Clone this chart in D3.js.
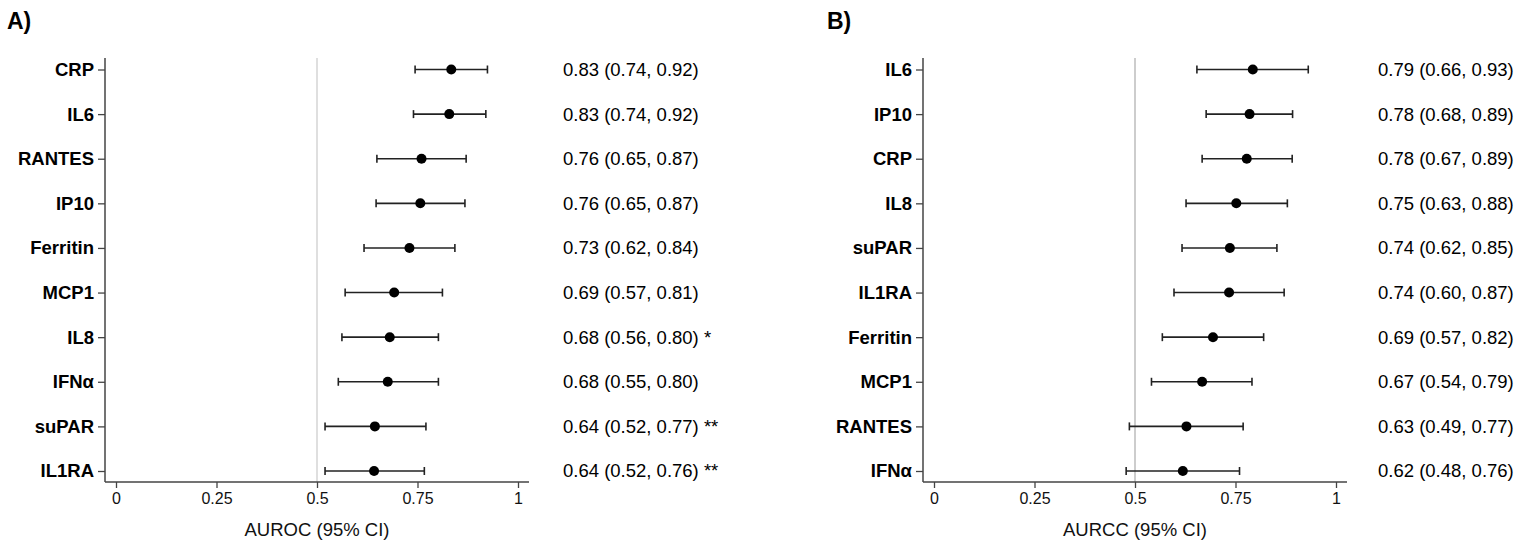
<!DOCTYPE html>
<html>
<head>
<meta charset="utf-8">
<script src="https://cdn.jsdelivr.net/npm/d3@7"></script>
<style>
  html, body { margin: 0; padding: 0; background: #fff; }
  svg { display: block; font-family: "Liberation Sans", Arial, Helvetica, sans-serif; }
</style>
</head>
<body>
<svg id="chart" width="1535" height="550"></svg>
<script>
// ---- Data ----
const catsA = ["CRP", "IL6", "RANTES", "IP10", "Ferritin", "MCP1", "IL8", "IFNα", "suPAR", "IL1RA"];
const estA  = [0.834, 0.829, 0.760, 0.757, 0.730, 0.692, 0.681, 0.676, 0.644, 0.642];
const lowA  = [0.744, 0.740, 0.649, 0.647, 0.617, 0.570, 0.562, 0.553, 0.520, 0.520];
const highA = [0.924, 0.920, 0.871, 0.868, 0.843, 0.812, 0.802, 0.802, 0.771, 0.767];
const textA = ["0.83 (0.74, 0.92)", "0.83 (0.74, 0.92)", "0.76 (0.65, 0.87)", "0.76 (0.65, 0.87)",
               "0.73 (0.62, 0.84)", "0.69 (0.57, 0.81)", "0.68 (0.56, 0.80) *", "0.68 (0.55, 0.80)",
               "0.64 (0.52, 0.77) **", "0.64 (0.52, 0.76) **"];

const catsB = ["IL6", "IP10", "CRP", "IL8", "suPAR", "IL1RA", "Ferritin", "MCP1", "RANTES", "IFNα"];
const estB  = [0.793, 0.785, 0.778, 0.752, 0.736, 0.734, 0.694, 0.667, 0.628, 0.619];
const lowB  = [0.654, 0.677, 0.667, 0.627, 0.617, 0.597, 0.568, 0.541, 0.486, 0.478];
const highB = [0.931, 0.892, 0.891, 0.879, 0.853, 0.871, 0.820, 0.791, 0.769, 0.760];
const textB = ["0.79 (0.66, 0.93)", "0.78 (0.68, 0.89)", "0.78 (0.67, 0.89)", "0.75 (0.63, 0.88)",
               "0.74 (0.62, 0.85)", "0.74 (0.60, 0.87)", "0.69 (0.57, 0.82)", "0.67 (0.54, 0.79)",
               "0.63 (0.49, 0.77)", "0.62 (0.48, 0.76)"];

const xTickValues = [0, 0.25, 0.5, 0.75, 1];
const xTickLabels = ["0", "0.25", "0.5", "0.75", "1"];
const refValue = 0.5;

const svg = d3.select("#chart");

function drawPanel(cfg) {
  const g = svg.append("g");
  const top = 58, bottom = 482;
  const x = d3.scaleLinear().domain([0, 1]).range([cfg.x0, cfg.x0 + 402]);
  const y = d3.scalePoint().domain(cfg.cats).range([69.5, 471]);

  // panel letter
  g.append("text").attr("x", cfg.letterX).attr("y", 29)
    .attr("font-size", 23).attr("font-weight", "bold").attr("fill", "#000")
    .text(cfg.letter);

  // reference line
  g.append("line")
    .attr("x1", x(refValue)).attr("x2", x(refValue))
    .attr("y1", top).attr("y2", bottom)
    .attr("stroke", cfg.refColor).attr("stroke-width", 1.5);

  // y axis
  const yAxis = d3.axisLeft(y).tickSize(7).tickSizeOuter(0).tickPadding(4);
  const ya = g.append("g").attr("transform", `translate(${cfg.axisX},0)`).call(yAxis);
  ya.select(".domain").remove();
  ya.selectAll(".tick line").attr("stroke", "#444").attr("stroke-width", 1.3);
  ya.selectAll(".tick text").attr("font-size", 18.5).attr("font-weight", "bold")
    .attr("fill", "#000").attr("font-family", "Liberation Sans, Arial, sans-serif");
  g.append("line").attr("x1", cfg.axisX).attr("x2", cfg.axisX)
    .attr("y1", top).attr("y2", bottom).attr("stroke", "#444").attr("stroke-width", 1.5);

  // x axis
  const xAxis = d3.axisBottom(x).tickValues(xTickValues)
    .tickFormat((d, i) => xTickLabels[i]).tickSize(6).tickSizeOuter(0).tickPadding(5);
  const xa = g.append("g").attr("transform", `translate(0,${bottom})`).call(xAxis);
  xa.select(".domain").remove();
  xa.selectAll(".tick line").attr("stroke", "#444").attr("stroke-width", 1.3);
  xa.selectAll(".tick text").attr("font-size", 16).attr("fill", "#111")
    .attr("font-family", "Liberation Sans, Arial, sans-serif");
  g.append("line").attr("x1", cfg.axisX).attr("x2", cfg.axisEnd)
    .attr("y1", bottom).attr("y2", bottom).attr("stroke", "#444").attr("stroke-width", 1.5);

  // x axis title
  g.append("text").attr("x", x(0.5)).attr("y", 536)
    .attr("text-anchor", "middle").attr("font-size", 18.5).attr("fill", "#111")
    .text(cfg.title);

  const rows = cfg.cats.map((c, i) => ({ c, e: cfg.est[i], lo: cfg.low[i], hi: cfg.high[i], t: cfg.text[i] }));

  const row = g.selectAll(".row").data(rows).enter().append("g").attr("class", "row");
  row.append("line")
    .attr("x1", d => x(d.lo)).attr("x2", d => x(d.hi))
    .attr("y1", d => y(d.c)).attr("y2", d => y(d.c))
    .attr("stroke", "#222").attr("stroke-width", 1.6);
  row.append("line")
    .attr("x1", d => x(d.lo)).attr("x2", d => x(d.lo))
    .attr("y1", d => y(d.c) - 4).attr("y2", d => y(d.c) + 4)
    .attr("stroke", "#222").attr("stroke-width", 1.6);
  row.append("line")
    .attr("x1", d => x(d.hi)).attr("x2", d => x(d.hi))
    .attr("y1", d => y(d.c) - 4).attr("y2", d => y(d.c) + 4)
    .attr("stroke", "#222").attr("stroke-width", 1.6);
  row.append("circle")
    .attr("cx", d => x(d.e)).attr("cy", d => y(d.c)).attr("r", 5)
    .attr("fill", "#000");
  row.append("text")
    .attr("x", cfg.textX).attr("y", d => y(d.c)).attr("dy", "0.35em")
    .attr("font-size", 18.5).attr("fill", "#000")
    .text(d => d.t);
}

drawPanel({
  letter: "A)", letterX: 7, cats: catsA, est: estA, low: lowA, high: highA, text: textA,
  x0: 116, axisX: 105, axisEnd: 529, textX: 563, refColor: "#d4d4d4", title: "AUROC (95% CI)"
});
drawPanel({
  letter: "B)", letterX: 827, cats: catsB, est: estB, low: lowB, high: highB, text: textB,
  x0: 934, axisX: 923, axisEnd: 1347, textX: 1378, refColor: "#bdbdbd", title: "AURCC (95% CI)"
});
</script>
</body>
</html>
